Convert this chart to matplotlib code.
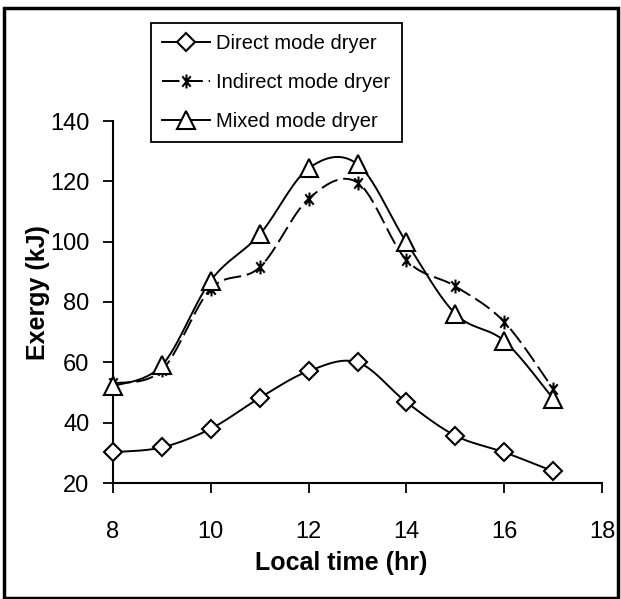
import numpy as np
import matplotlib
matplotlib.use("Agg")
import matplotlib.pyplot as plt
from matplotlib.patches import Rectangle
from matplotlib.path import Path

plt.rcParams['font.family'] = ['Liberation Sans', 'DejaVu Sans']

hours = [8, 9, 10, 11, 12, 13, 14, 15, 16, 17]
direct = [30.2, 31.8, 38.0, 48.2, 57.1, 60.0, 46.8, 35.7, 30.2, 23.9]
indirect = [53.0, 57.4, 84.4, 91.5, 114.2, 119.6, 93.9, 85.2, 73.4, 51.2]
mixed = [52.1, 59.0, 87.1, 102.4, 124.3, 125.7, 99.8, 76.1, 67.1, 48.0]
labels = ["Direct mode dryer", "Indirect mode dryer", "Mixed mode dryer"]
xticks = [8, 10, 12, 14, 16, 18]
yticks = [20, 40, 60, 80, 100, 120, 140]

W, H = 621, 599


def smooth(x, y, n=30, t=1 / 6):
    """Excel-like smoothed path (cubic Bezier through the points)."""
    x = np.asarray(x, float)
    y = np.asarray(y, float)
    px = np.concatenate([[x[0]], x, [x[-1]]])
    py = np.concatenate([[y[0]], y, [y[-1]]])
    xs, ys = [], []
    s = np.linspace(0, 1, n)
    for i in range(len(x) - 1):
        p0 = np.array([px[i + 1], py[i + 1]])
        p3 = np.array([px[i + 2], py[i + 2]])
        c1 = p0 + t * (np.array([px[i + 2], py[i + 2]]) - np.array([px[i], py[i]]))
        c2 = p3 - t * (np.array([px[i + 3], py[i + 3]]) - np.array([px[i + 1], py[i + 1]]))
        b = ((1 - s) ** 3)[:, None] * p0 + (3 * (1 - s) ** 2 * s)[:, None] * c1 \
            + (3 * (1 - s) * s ** 2)[:, None] * c2 + (s ** 3)[:, None] * p3
        xs.extend(b[:, 0])
        ys.extend(b[:, 1])
    return np.array(xs), np.array(ys)


# Excel-style "star" marker: an X with a vertical bar
star = Path([(0, -1), (0, 1), (-0.6, -0.75), (0.6, 0.75), (-0.6, 0.75), (0.6, -0.75)],
            [Path.MOVETO, Path.LINETO, Path.MOVETO, Path.LINETO, Path.MOVETO, Path.LINETO])

fig = plt.figure(figsize=(W / 100, H / 100), dpi=100)
ax_l, ax_r, ax_t, ax_b = 113, 602, 121, 483
ax = fig.add_axes([ax_l / W, 1 - ax_b / H, (ax_r - ax_l) / W, (ax_b - ax_t) / H])

styles = [
    dict(marker='D', ms=9, ls='-'),
    dict(marker=star, ms=10, ls=(0, (9, 3))),
    dict(marker='^', ms=13, ls='-'),
]
handles = []
for ys, st, lab in zip([direct, indirect, mixed], styles, labels):
    sx, sy = smooth(hours, ys)
    ax.plot(sx, sy, color='black', lw=1.4, ls=st['ls'], zorder=2, clip_on=False)
    ax.plot(hours, ys, ls='none', marker=st['marker'], ms=st['ms'],
            mfc='white', mec='black', mew=1.5, zorder=3, clip_on=False)
    h, = ax.plot([], [], color='black', lw=1.4, ls=st['ls'], marker=st['marker'],
                 ms=st['ms'], mfc='white', mec='black', mew=1.5)
    handles.append(h)

ax.set_xlim(8, 18)
ax.set_ylim(20, 140)
ax.set_xticks(xticks)
ax.set_yticks(yticks)
for s in ['top', 'right']:
    ax.spines[s].set_visible(False)
for s in ['left', 'bottom']:
    ax.spines[s].set_linewidth(1.5)
ax.tick_params(direction='out', length=7, width=1.3, labelsize=17)
ax.tick_params(axis='x', pad=20)
ax.tick_params(axis='y', pad=10)

ax.set_xlabel('Local time (hr)', fontsize=18, fontweight='bold')
ax.xaxis.label.set_va('center')
ax.xaxis.set_label_coords((341 - ax_l) / (ax_r - ax_l), (ax_b - 563) / (ax_b - ax_t))
ax.set_ylabel('Exergy (kJ)', fontsize=18, fontweight='bold')
ax.yaxis.label.set_va('center')
ax.yaxis.set_label_coords((38 - ax_l) / (ax_r - ax_l), (ax_b - 293) / (ax_b - ax_t))

leg = fig.legend(handles, labels, loc='upper left', bbox_to_anchor=(151 / W, 1 - 23 / H),
                 fontsize=14.5, frameon=True, fancybox=False, handlelength=2.4,
                 handletextpad=0.3, borderpad=0.55, labelspacing=1.0, borderaxespad=0)
leg.get_frame().set_edgecolor('black')
leg.get_frame().set_linewidth(1.3)
leg.get_frame().set_alpha(1)

fig.patches.append(Rectangle((4 / W, 1 / H), (W - 7) / W, (H - 9) / H, transform=fig.transFigure,
                             fill=False, edgecolor='black', lw=2.5))

fig.savefig('out.png', dpi=100)
